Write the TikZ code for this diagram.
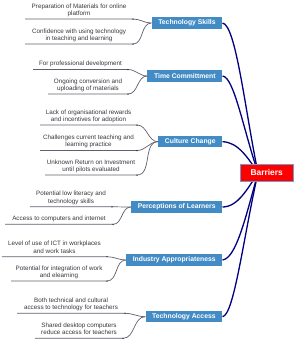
\documentclass[tikz,border=0pt]{standalone}
\usepackage{fontspec}
\setmainfont{Liberation Sans}
\usetikzlibrary{backgrounds}
\definecolor{catblue}{RGB}{66,139,196}
\definecolor{navy}{RGB}{0,0,128}
\definecolor{leafgray}{RGB}{55,55,60}
\definecolor{linegray}{RGB}{95,95,110}
\definecolor{dotgray}{RGB}{40,40,50}
\definecolor{bordblue}{RGB}{120,150,200}
\begin{document}
\begin{tikzpicture}[x=1pt,y=-1pt,
  cat/.style={fill=catblue, text=white, font=\bfseries\fontsize{6.8}{8}\selectfont, inner xsep=6.7pt, inner ysep=0pt, minimum height=11.5pt, anchor=east},
  leaf/.style={text=leafgray, font=\fontsize{6.3}{7.3}\selectfont, align=center, anchor=south, inner sep=0pt, text depth=1.2pt},
  uline/.style={draw=linegray, line width=0.7pt},
  conn/.style={draw=navy, line width=1.3pt},
  bar/.style={fill=red, draw=bordblue, line width=0.8pt, text=white, font=\bfseries\fontsize{8.4}{10}\selectfont, minimum width=53pt, minimum height=17.5pt, inner sep=0pt}
]
\useasboundingbox (0,0) rectangle (300,341);

% central node
\node[bar] (bar) at (266.7,172.8) {Barriers};

% category nodes
\node[cat] (ts) at (222.5,23) {Technology Skills};
\node[cat] (tc) at (222.5,76) {Time Committment};
\node[cat] (cc) at (222.5,141.7) {Culture Change};
\node[cat] (pl) at (222.5,207) {Perceptions of Learners};
\node[cat] (ia) at (222.5,260) {Industry Appropriateness};
\node[cat] (ta) at (222.5,316.7) {Technology Access};

\begin{pgfonlayer}{background}
\draw[conn] (ts.east) .. controls (236,25) and (245,110) .. ([xshift=-8.7pt]bar.center);
\draw[conn] (tc.east) .. controls (234,77) and (243,128) .. ([xshift=-8.7pt]bar.center);
\draw[conn] (cc.east) .. controls (238,142) and (248,158) .. ([xshift=-8.7pt]bar.center);
\draw[conn] (pl.east) .. controls (238,207) and (248,188) .. ([xshift=-8.7pt]bar.center);
\draw[conn] (ia.east) .. controls (236,258) and (245,220) .. ([xshift=-8.7pt]bar.center);
\draw[conn] (ta.east) .. controls (234,315) and (243,240) .. ([xshift=-8.7pt]bar.center);
\end{pgfonlayer}

% leaves: text, underline coordinates
\newcommand{\leafitem}[6]{%
  % #1 name, #2 x1, #3 x2, #4 y, #5 text, #6 category
  \coordinate (#1a) at (#2,#4);
  \coordinate (#1b) at (#3,#4);
  \node[leaf] (#1) at ({(#2+#3)/2},{#4-2.3}) {#5};
  \draw[uline] (#1a) -- (#1b) to[out=0,in=180] (#6.west);
  \fill[dotgray] (#1b) circle (0.75pt);
}

\leafitem{la}{25}{133}{19}{Preparation of Materials for online\\platform}{ts}
\leafitem{lb}{25}{133}{44}{Confidence with using technology\\in teaching and learning}{ts}
\leafitem{lc}{33}{128}{69.5}{For professional development}{tc}
\leafitem{ld}{48}{128}{94}{Ongoing conversion and\\uploading of materials}{tc}
\leafitem{le}{40}{137}{125}{Lack of organisational rewards\\and incentives for adoption}{cc}
\leafitem{lf}{40}{137}{150.5}{Challenges current teaching and\\learning practice}{cc}
\leafitem{lg}{45}{137}{175}{Unknown Return on Investment\\until pilots evaluated}{cc}
\leafitem{lh}{30}{112}{206.8}{Potential low literacy and\\technology skills}{pl}
\leafitem{li}{5}{113}{224.3}{Access to computers and internet}{pl}
\leafitem{lj}{2}{107}{256.7}{Level of use of ICT in workplaces\\and work tasks}{ia}
\leafitem{lk}{11}{107}{281}{Potential for integration of work\\and elearning}{ia}
\leafitem{ll}{17}{125}{313.3}{Both technical and cultural\\access to technology for teachers}{ta}
\leafitem{lm}{35}{123}{338.3}{Shared desktop computers\\reduce access for teachers}{ta}
\end{tikzpicture}
\end{document}
